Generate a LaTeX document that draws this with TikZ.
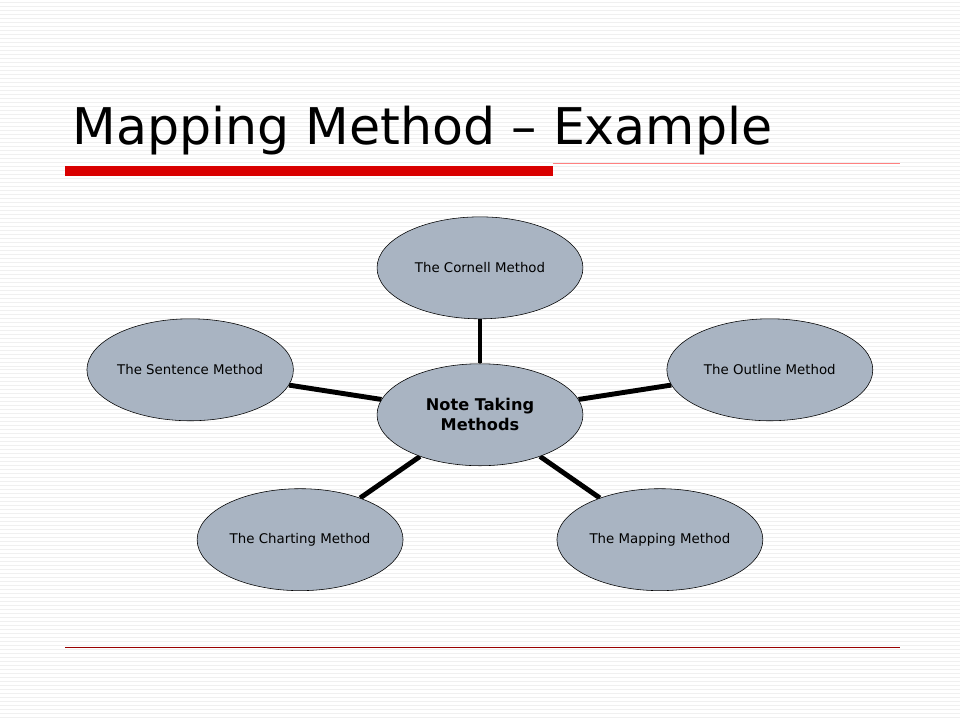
\documentclass[tikz,border=0pt]{standalone}
\usepackage{fontspec}
\setmainfont{DejaVu Sans}
\usetikzlibrary{shapes.geometric, backgrounds}

\begin{document}
\begin{tikzpicture}[x=0.025cm, y=-0.025cm]
      \tikzset{
        method/.style={ellipse, draw=black, fill={rgb,255:red,169;green,180;blue,194},
          minimum width=5.15cm, minimum height=2.55cm, inner sep=0pt, font=\fontsize{9.5}{11}\selectfont},
        spoke/.style={line width=3.5pt}
      }
      % Background with faint stripes.
      \begin{pgfonlayer}{background}
        \fill[white] (0,0) rectangle (960,720);
        \foreach \y in {2,6,...,718}
          \draw[gray!12, line width=0.4pt] (0,\y) -- (960,\y);
      \end{pgfonlayer}

      % Title and rules.
      \node[anchor=base west, inner sep=0pt, font=\fontsize{36}{41}\selectfont] (title) at (72,145) {Mapping Method – Example};
      \fill[red!85!black] (65,166) rectangle (553,176);
      \draw[red!50, line width=0.6pt] (553,164) -- (900,164);
      \draw[red!60!black, line width=0.6pt] (65,648) -- (900,648);

      % The ellipses.
      \node[method, font=\fontsize{11.5}{14}\selectfont\bfseries, align=center] (hub) at (480,415) {Note Taking\\ Methods};
      \node[method] (cornell) at (480,268) {The Cornell Method};
      \node[method] (outline) at (770,370) {The Outline Method};
      \node[method] (sentence) at (190,370) {The Sentence Method};
      \node[method] (charting) at (300,540) {The Charting Method};
      \node[method] (mapping) at (660,540) {The Mapping Method};

      % Spokes from the hub.
      \begin{pgfonlayer}{background}
        \foreach \m in {cornell, outline, sentence, charting, mapping}
          \draw[spoke] (hub) -- (\m);
      \end{pgfonlayer}
    \end{tikzpicture}
\end{document}
